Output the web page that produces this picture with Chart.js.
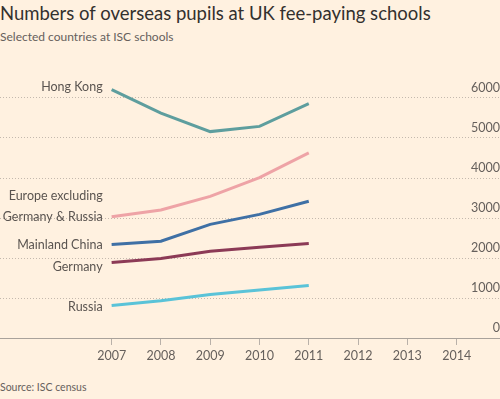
<!DOCTYPE html>
<html>
<head>
<meta charset="utf-8">
<script src="https://cdn.jsdelivr.net/npm/chart.js@4.4.0/dist/chart.umd.min.js"></script>
<style>
  body { margin: 0; background: #fff1e0; width: 500px; height: 399px; overflow: hidden; position: relative; font-family: Lato, sans-serif; }
  #title { position: absolute; left: 0; top: 1px; font-size: 18.5px; line-height: 24px; color: #33302e; white-space: nowrap; }
  #subtitle { position: absolute; left: 0; top: 29px; font-size: 12px; line-height: 16px; color: #66605c; }
  #source { position: absolute; left: 0; top: 380px; font-size: 10.5px; line-height: 14px; color: #66605c; }
  #wrap { position: absolute; left: 0; top: 50px; width: 500px; height: 322px; }
</style>
</head>
<body>
<div id="title">Numbers of overseas pupils at UK fee-paying schools</div>
<div id="subtitle">Selected countries at ISC schools</div>
<div id="source">Source: ISC census</div>
<div id="wrap"><canvas id="chart"></canvas></div>
<script>
var years = [2007, 2008, 2009, 2010, 2011];
var yearTicks = [2007, 2008, 2009, 2010, 2011, 2012, 2013, 2014];
var valueTicks = [0, 1000, 2000, 3000, 4000, 5000, 6000];

var hongKong = [6210, 5620, 5160, 5290, 5860];
var europe = [3030, 3200, 3540, 4010, 4630];
var china = [2340, 2420, 2840, 3090, 3420];
var germany = [1890, 1990, 2170, 2270, 2360];
var russia = [810, 930, 1090, 1200, 1310];

var names = [["Hong Kong"], ["Europe excluding", "Germany & Russia"], ["Mainland China"], ["Germany"], ["Russia"]];
var colors = ["#5e9e9e", "#eea3a6", "#3f70a5", "#8c3a56", "#5ac3d8"];
var labelShift = [-3, 0, 1, 5, 1];

function points(values) {
  return values.map(function(v, i) { return { x: years[i], y: v }; });
}

var series = [hongKong, europe, china, germany, russia];

var seriesLabels = {
  id: "seriesLabels",
  afterDatasetsDraw: function(chart) {
    var ctx = chart.ctx;
    ctx.save();
    ctx.font = "12.5px Lato";
    ctx.fillStyle = "#5a5450";
    ctx.textAlign = "right";
    ctx.textBaseline = "middle";
    chart.data.datasets.forEach(function(ds, i) {
      var p = chart.getDatasetMeta(i).data[0];
      var lines = names[i];
      var y0 = p.y + labelShift[i] - (lines.length - 1) * 21;
      lines.forEach(function(t, j) {
        ctx.fillText(t, p.x - 9, y0 + j * 21);
      });
    });
    ctx.restore();
  }
};

new Chart(document.getElementById("chart"), {
  type: "line",
  data: {
    datasets: series.map(function(s, i) {
      return {
        label: names[i].join(" "),
        data: points(s),
        borderColor: colors[i],
        borderWidth: 3,
        pointRadius: 0,
        tension: 0,
        fill: false
      };
    })
  },
  options: {
    responsive: true,
    maintainAspectRatio: false,
    animation: false,
    layout: { padding: { top: 20, bottom: 6, left: 0, right: 0 } },
    plugins: { legend: { display: false }, tooltip: { enabled: false } },
    scales: {
      x: {
        type: "linear",
        min: 2004.735,
        max: 2014.88,
        afterBuildTicks: function(axis) {
          axis.ticks = yearTicks.map(function(v) { return { value: v }; });
        },
        grid: { drawOnChartArea: false, drawTicks: true, tickLength: 7, color: "#b9b1a9" },
        border: { display: true, color: "#a9a29b", width: 1 },
        ticks: {
          font: { family: "Lato", size: 12.5 },
          color: "#66605c",
          padding: 3,
          maxRotation: 0,
          callback: function(v) { return String(v); }
        }
      },
      y: {
        position: "right",
        min: 0,
        max: 6700,
        afterBuildTicks: function(axis) {
          axis.ticks = valueTicks.map(function(v) { return { value: v }; });
        },
        grid: { color: "#c4b9ae", drawTicks: false, lineWidth: 1 },
        border: { display: false, dash: [1, 2] },
        ticks: {
          mirror: true,
          padding: 0,
          labelOffset: -10,
          font: { family: "Lato", size: 12.5 },
          color: "#66605c",
          callback: function(v) { return String(v); }
        }
      }
    }
  },
  plugins: [seriesLabels]
});
</script>
</body>
</html>
